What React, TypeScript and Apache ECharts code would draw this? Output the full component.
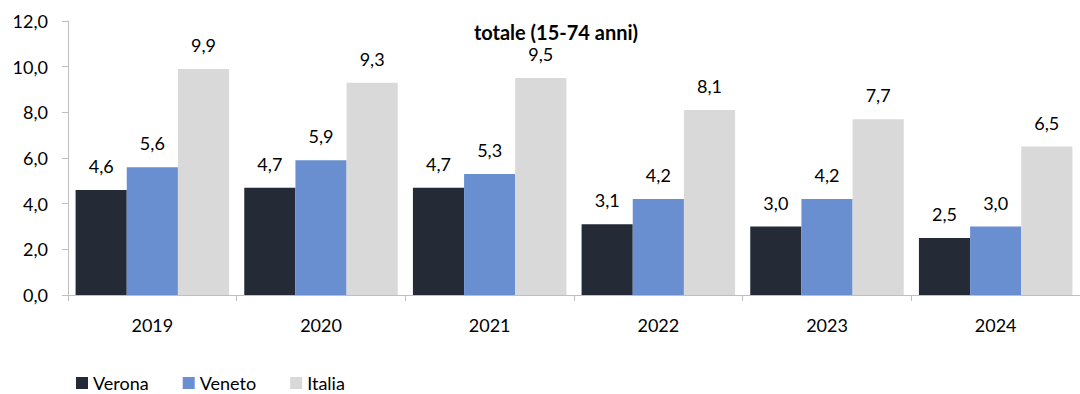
import React, { useEffect, useRef } from "react";
import * as echarts from "echarts";

const categories = ["2019", "2020", "2021", "2022", "2023", "2024"];
const verona = [4.6, 4.7, 4.7, 3.1, 3.0, 2.5];
const veneto = [5.6, 5.9, 5.3, 4.2, 4.2, 3.0];
const italia = [9.9, 9.3, 9.5, 8.1, 7.7, 6.5];
const seriesNames = ["Verona", "Veneto", "Italia"];
const colors = ["#252b36", "#6a8fd0", "#d9d9d9"];
const titleText = "totale (15-74 anni)";

const FONT = "Lato, 'Open Sans', sans-serif";
const fmt = (v: number) => v.toFixed(1).replace(".", ",");

export default function App() {
  const ref = useRef<HTMLDivElement>(null);
  useEffect(() => {
    if (!ref.current) return;
    const chart = echarts.init(ref.current, undefined, { renderer: "svg" });
    const values = [verona, veneto, italia];
    chart.setOption({
      animation: false,
      title: {
        text: titleText,
        left: 551,
        textAlign: "center",
        top: 17,
        textStyle: { fontFamily: FONT, fontSize: 20, fontWeight: "bold", color: "#000" },
      },
      legend: {
        left: 71,
        top: 369,
        itemWidth: 12,
        itemHeight: 12,
        itemGap: 34,
        icon: "rect",
        textStyle: { fontFamily: FONT, fontSize: 18, color: "#000" },
        data: seriesNames,
      },
      grid: { left: 68, top: 21, width: 1024, height: 274, containLabel: false },
      xAxis: {
        type: "category",
        data: categories,
        axisLine: { lineStyle: { color: "#bfbfbf" } },
        axisTick: { show: true, length: 6, lineStyle: { color: "#bfbfbf" } },
        axisLabel: { fontFamily: FONT, fontSize: 18, color: "#000", margin: 21 },
      },
      yAxis: {
        type: "value",
        min: 0,
        max: 12,
        interval: 2,
        splitLine: { show: false },
        axisLine: { show: true, lineStyle: { color: "#bfbfbf" } },
        axisTick: { show: true, length: 6, lineStyle: { color: "#bfbfbf" } },
        axisLabel: {
          fontFamily: FONT,
          fontSize: 18,
          color: "#000",
          margin: 20,
          formatter: (v: number) => fmt(v),
        },
      },
      series: seriesNames.map((name, i) => ({
        name,
        type: "bar",
        data: values[i],
        barGap: "0%",
        barCategoryGap: "9%",
        itemStyle: { color: colors[i] },
        label: {
          show: true,
          position: "top",
          distance: 15,
          fontFamily: FONT,
          fontSize: 18,
          color: "#000",
          formatter: (p: any) => fmt(p.value),
        },
      })),
    });
    return () => chart.dispose();
  }, []);
  return (
    <div
      ref={ref}
      style={{ position: "absolute", left: 0, top: 0, width: 1080, height: 394 }}
    />
  );
}
